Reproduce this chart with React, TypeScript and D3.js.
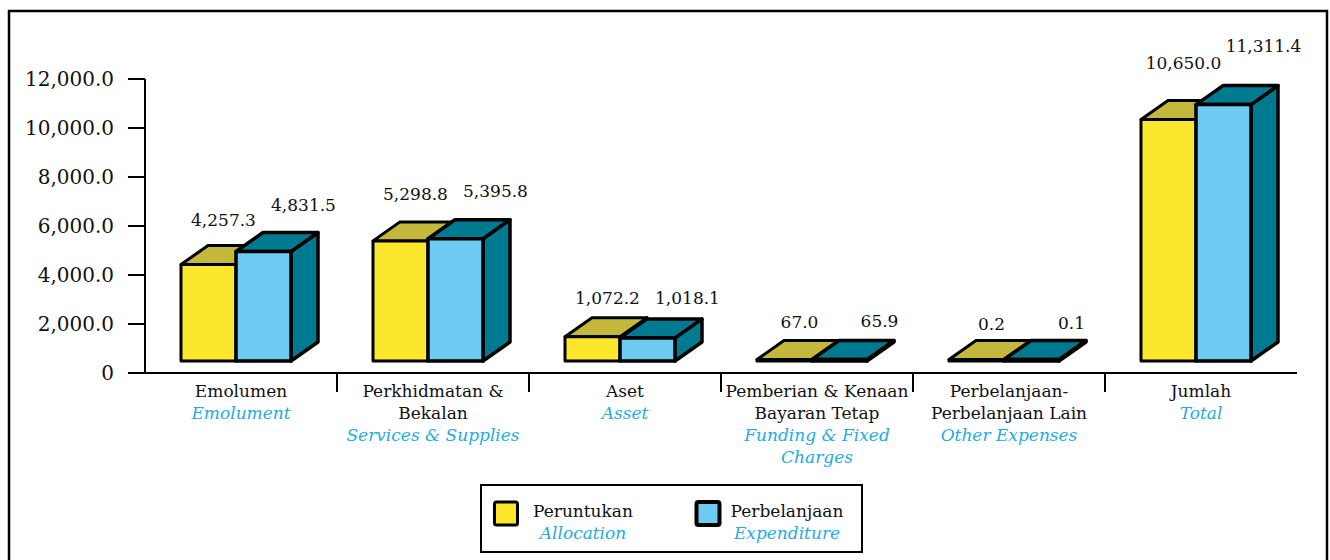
import React from "react";
import * as d3 from "d3";

// Malay category labels (split into lines) with the English translation below
const categories = ["Emolumen", "Perkhidmatan", "Aset", "Pemberian", "Perbelanjaan", "Jumlah"];
const malayLines = [
  ["Emolumen"],
  ["Perkhidmatan &", "Bekalan"],
  ["Aset"],
  ["Pemberian & Kenaan", "Bayaran Tetap"],
  ["Perbelanjaan-", "Perbelanjaan Lain"],
  ["Jumlah"],
];
const englishLines = [
  ["Emolument"],
  ["Services & Supplies"],
  ["Asset"],
  ["Funding & Fixed", "Charges"],
  ["Other Expenses"],
  ["Total"],
];
const allocation = [4257.3, 5298.8, 1072.2, 67.0, 0.2, 10650.0];
const expenditure = [4831.5, 5395.8, 1018.1, 65.9, 0.1, 11311.4];
const yTicks = [0, 2000, 4000, 6000, 8000, 10000, 12000];
const seriesMalay = ["Peruntukan", "Perbelanjaan"];
const seriesEnglish = ["Allocation", "Expenditure"];

const FONT = "'DejaVu Serif', serif";
const BLUE_TEXT = "#22ace4";

const App = () => {
  const width = 1330;
  const height = 560;

  const x = d3.scaleBand().domain(categories).range([145, 1297]);
  const yAxis = d3.scaleLinear().domain([0, 12000]).range([373, 79]);
  // front face of the 3D bars sits a little above the axis line
  const yBar = d3.scaleLinear().domain([0, 12000]).range([361, 89]);
  const fmt = d3.format(",.1f");
  const tickFmt = (d: number) => (d === 0 ? "0" : fmt(d));

  const barW = 55;
  const dx = 27;
  const dy = 19;
  const base = yBar(0);

  // one 3D box: front, top, right side
  const box = (x0: number, v: number, front: string, shade: string, sw: number, key: string) => {
    const yt = Math.min(yBar(v), base - 1.5);
    const top = [
      [x0, yt],
      [x0 + dx, yt - dy],
      [x0 + barW + dx, yt - dy],
      [x0 + barW, yt],
    ];
    const side = [
      [x0 + barW, yt],
      [x0 + barW + dx, yt - dy],
      [x0 + barW + dx, base - dy],
      [x0 + barW, base],
    ];
    const pts = (p: number[][]) => p.map((q) => q.join(",")).join(" ");
    return (
      <g key={key} stroke="#000" strokeWidth={sw} strokeLinejoin="round">
        <polygon points={pts(side)} fill={shade} />
        <polygon points={pts(top)} fill={shade} />
        <rect x={x0} y={yt} width={barW} height={base - yt} fill={front} />
      </g>
    );
  };

  const bandStep = x.step();
  const separators = categories.slice(1).map((c) => x(c) as number);

  return (
    <svg
      width={width}
      height={height}
      style={{ position: "absolute", left: 0, top: 0, background: "#fff", fontFamily: FONT }}
    >
      {/* outer frame */}
      <rect x={9} y={11} width={1318} height={600} fill="none" stroke="#000" strokeWidth={2.5} />

      {/* y axis */}
      <line x1={145} x2={145} y1={yAxis(12000)} y2={yAxis(0)} stroke="#000" strokeWidth={2} />
      {yTicks.map((t) => (
        <g key={t}>
          <line x1={128} x2={145} y1={yAxis(t)} y2={yAxis(t)} stroke="#000" strokeWidth={2} />
          <text x={114} y={yAxis(t) + 7} textAnchor="end" fontSize={20} fill="#111">
            {tickFmt(t)}
          </text>
        </g>
      ))}

      {/* x axis */}
      <line x1={128} x2={1297} y1={yAxis(0)} y2={yAxis(0)} stroke="#000" strokeWidth={2} />
      {separators.map((s, i) => (
        <line key={i} x1={s} x2={s} y1={yAxis(0)} y2={yAxis(0) + 19} stroke="#000" strokeWidth={2} />
      ))}

      {/* bars */}
      {categories.map((c, i) => {
        const cx = (x(c) as number) + bandStep / 2 - 5;
        return (
          <g key={c}>
            {box(cx - barW, allocation[i], "#fbe72c", "#c3b83b", 3, "a")}
            {box(cx, expenditure[i], "#6ecbf1", "#007a91", 3.5, "e")}
            <text x={cx - barW / 2 + 15} y={yAxis(allocation[i]) - 43} textAnchor="middle" fontSize={17} fill="#111">
              {fmt(allocation[i])}
            </text>
            <text x={cx + barW / 2 + 40} y={yAxis(expenditure[i]) - 44} textAnchor="middle" fontSize={17} fill="#111">
              {fmt(expenditure[i])}
            </text>
          </g>
        );
      })}

      {/* category labels */}
      {categories.map((c, i) => {
        const mx = (x(c) as number) + bandStep / 2;
        const lines = [
          ...malayLines[i].map((t) => ({ t, en: false })),
          ...englishLines[i].map((t) => ({ t, en: true })),
        ];
        return (
          <text key={c} textAnchor="middle" fontSize={17}>
            {lines.map((l, j) => (
              <tspan
                key={j}
                x={mx}
                y={397 + j * 22}
                fill={l.en ? BLUE_TEXT : "#111"}
                fontStyle={l.en ? "italic" : "normal"}
              >
                {l.t}
              </tspan>
            ))}
          </text>
        );
      })}

      {/* legend */}
      <rect x={481} y={485} width={381} height={67} fill="#fff" stroke="#000" strokeWidth={2} />
      {seriesMalay.map((s, i) => {
        const sx = i === 0 ? 494.5 : 696.5;
        const tx = i === 0 ? 583 : 787;
        return (
          <g key={s}>
            <rect
              x={sx}
              y={502}
              width={23}
              height={23}
              rx={2}
              fill={i === 0 ? "#fbe72c" : "#6ecbf1"}
              stroke="#000"
              strokeWidth={i === 0 ? 3 : 4}
            />
            <text x={tx} y={517} textAnchor="middle" fontSize={17} fill="#111">
              {s}
            </text>
            <text x={tx} y={539} textAnchor="middle" fontSize={17} fontStyle="italic" fill={BLUE_TEXT}>
              {seriesEnglish[i]}
            </text>
          </g>
        );
      })}
    </svg>
  );
};

export default App;
